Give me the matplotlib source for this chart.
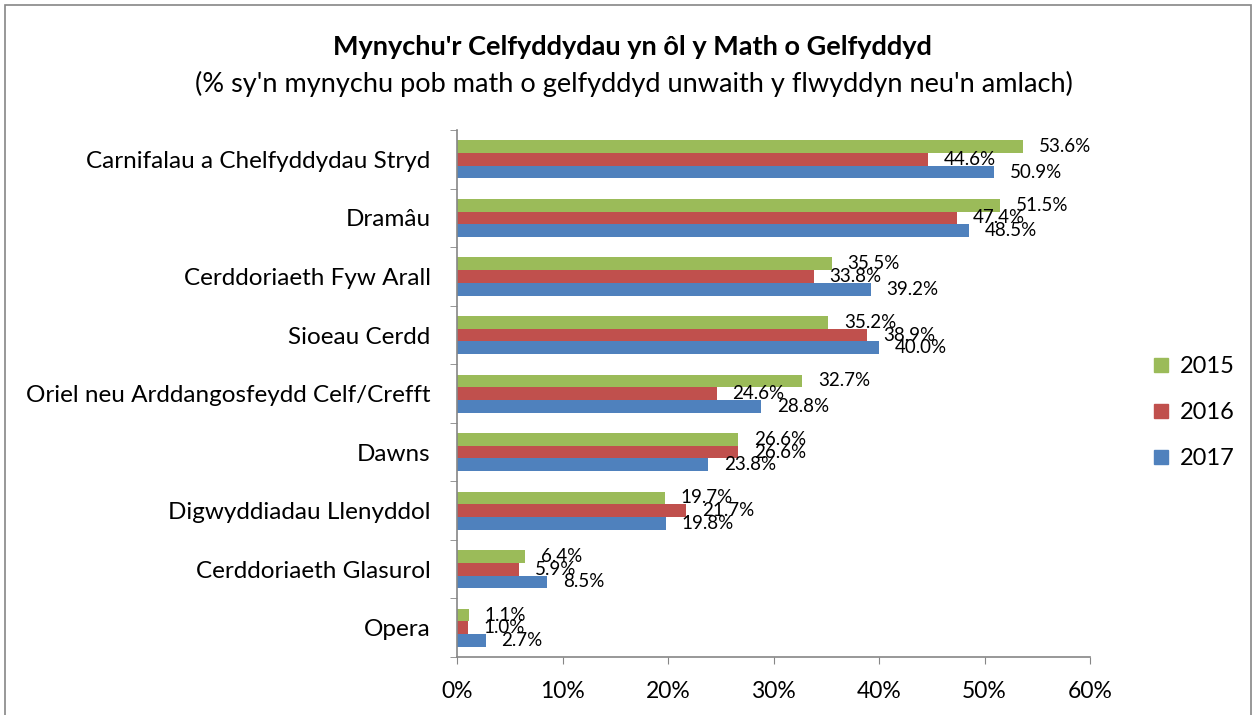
import matplotlib.pyplot as plt
from matplotlib.lines import Line2D

plt.rcParams['font.family'] = ['Lato', 'DejaVu Sans']

categories = ["Carnifalau a Chelfyddydau Stryd", "Dramâu", "Cerddoriaeth Fyw Arall",
              "Sioeau Cerdd", "Oriel neu Arddangosfeydd Celf/Crefft", "Dawns",
              "Digwyddiadau Llenyddol", "Cerddoriaeth Glasurol", "Opera"]
years = ["2015", "2016", "2017"]
v2015 = [53.6, 51.5, 35.5, 35.2, 32.7, 26.6, 19.7, 6.4, 1.1]
v2016 = [44.6, 47.4, 33.8, 38.9, 24.6, 26.6, 21.7, 5.9, 1.0]
v2017 = [50.9, 48.5, 39.2, 40.0, 28.8, 23.8, 19.8, 8.5, 2.7]
colors = ["#9BBB59", "#C0504D", "#4F81BD"]

fig = plt.figure(figsize=(12.58, 7.15), dpi=100)
ax = fig.add_axes([0.3633, 0.0811, 0.8665 - 0.3633, 0.818 - 0.0811])

h = 0.217
ypos = list(range(len(categories)))
for k, (vals, col) in enumerate(zip([v2015, v2016, v2017], colors)):
    off = (k - 1) * h
    ys = [y + off for y in ypos]
    ax.barh(ys, vals, height=h, color=col, label=years[k], zorder=2)
    for y, v in zip(ys, vals):
        ax.annotate(f"{v:.1f}%", (v, y), xytext=(11.5, 0), textcoords='offset points',
                    va='center', ha='left', fontsize=13.5, zorder=5)

ax.set_xlim(0, 60)
ax.set_ylim(len(categories) - 0.5, -0.5)
ax.set_xticks(range(0, 61, 10))
ax.set_xticklabels([f"{t}%" for t in range(0, 61, 10)], fontsize=16.5)
ax.set_yticks(ypos)
ax.set_yticklabels(categories, fontsize=17.5)
ax.set_yticks([y - 0.5 for y in range(len(categories) + 1)], minor=True)
ax.tick_params(axis='y', which='major', length=0, pad=19)
ax.tick_params(axis='y', which='minor', length=5, color='#868686', direction='out')
ax.tick_params(axis='x', length=5, color='#868686', direction='out', pad=12)
for s in ['top', 'right']:
    ax.spines[s].set_visible(False)
for s in ['left', 'bottom']:
    ax.spines[s].set_color('#868686')
    ax.spines[s].set_linewidth(1.2)

handles = [Line2D([0], [0], marker='s', linestyle='none', markersize=10,
                  markerfacecolor=c, markeredgecolor=c) for c in colors]
fig.legend(handles, years, loc='center left', bbox_to_anchor=(0.897, 0.423),
           frameon=False, fontsize=17, labelspacing=1.05, handletextpad=0.3,
           handlelength=1.0)

fig.text(0.503, 0.934, "Mynychu'r Celfyddydau yn ôl y Math o Gelfyddyd",
         ha='center', va='center', fontsize=19.5, fontweight='bold')
fig.text(0.504, 0.882, "(% sy'n mynychu pob math o gelfyddyd unwaith y flwyddyn neu'n amlach)",
         ha='center', va='center', fontsize=19.5)

# outer chart border
fig.add_artist(plt.Rectangle((5 / 1258, -0.01), 1246 / 1258, 1.01 - 5 / 715,
                             transform=fig.transFigure, fill=False,
                             ec='#868686', lw=1.2))

fig.savefig("out.png", dpi=100)
